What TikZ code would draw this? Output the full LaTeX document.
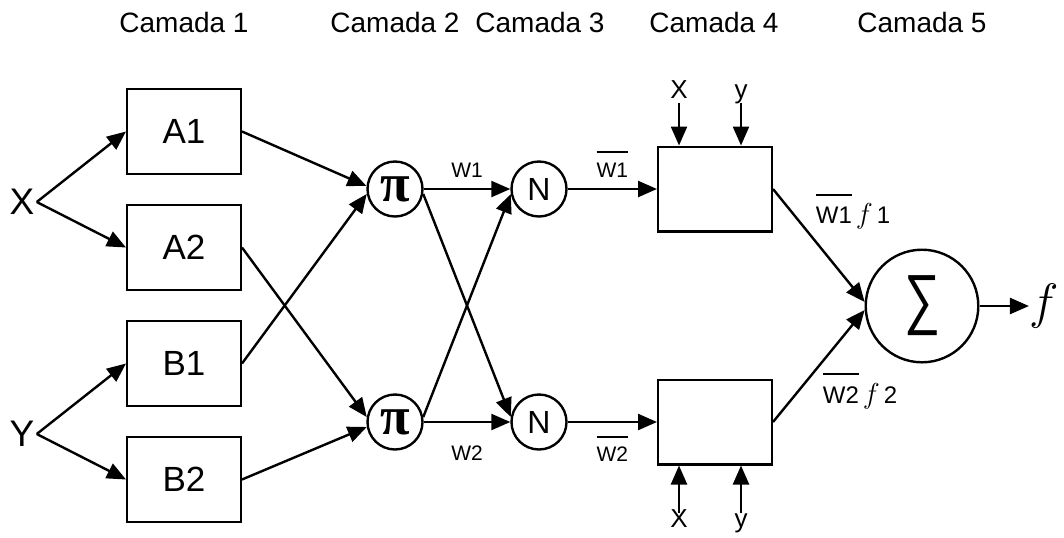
\documentclass[tikz,border=0pt]{standalone}
\usepackage{graphicx}
\usepackage{fontspec}
\setmainfont{Liberation Sans}
\newfontfamily\pifont{Liberation Serif}
\usetikzlibrary{arrows.meta, positioning}
\newcommand{\wbar}[1]{\vbox{\hrule height 1pt\kern .45em\hbox{#1}}}
\newcommand{\fsmall}{{\fontsize{14}{16}\selectfont$f$}}
\tikzstyle{camada} = [font=\fontsize{14}{16}\selectfont]
\tikzstyle{inlabel} = [inner sep=1pt, font=\fontsize{18.5}{20}\selectfont]
\tikzstyle{rulein} = [inner sep=0pt, text height=0.72em, text depth=0.2em, font=\fontsize{13}{15}\selectfont]
\tikzstyle{layer1} = [rectangle, minimum width=56.8pt, minimum height=42.3pt, text centered, draw=black, line width=1.2pt, font=\fontsize{17.5}{20}\selectfont]
\tikzstyle{layer2} = [circle, minimum size=27.5pt, inner sep=0pt, draw=black, line width=1.2pt, font=\pifont\bfseries\fontsize{27}{30}\selectfont]
\tikzstyle{layer3} = [circle, minimum size=27.5pt, inner sep=0pt, draw=black, line width=1.2pt, font=\fontsize{16}{18}\selectfont]
\tikzstyle{layer4} = [rectangle, minimum width=56.8pt, minimum height=42.3pt, draw=black, line width=1.2pt]
\tikzstyle{layer5} = [circle, minimum size=56.3pt, inner sep=0pt, draw=black, line width=1.2pt]
\tikzstyle{outlabel} = [inner sep=0pt, font=\fontsize{25}{28}\selectfont]
\tikzstyle{wlabel} = [font=\fontsize{10.5}{12}\selectfont]
\tikzstyle{flabel} = [font=\fontsize{12}{14}\selectfont]
\tikzstyle{arrow} = [line width=1.2pt, -{Triangle[length=9.5pt, width=8pt]}]

\begin{document}
\begin{tikzpicture}[x=0.5pt, y=-0.5pt, node distance=58pt]
    \useasboundingbox (0,0) rectangle (1064,537);

    \node (cam1) [camada] at (184,22) {Camada 1};
    \node (cam2) [camada] at (395,22) {Camada 2};
    \node (cam3) [camada] at (540,22) {Camada 3};
    \node (cam4) [camada] at (714,22) {Camada 4};
    \node (cam5) [camada] at (922,22) {Camada 5};

    \node (in-x) [inlabel] at (22,202) {X};
    \node (in-y) [inlabel] at (22,434) {Y};

    \node (a1) [layer1] at (184,131.5) {A1};
    \node (a2) [layer1, below of=a1] {A2};
    \node (b1) [layer1, below of=a2] {B1};
    \node (b2) [layer1, below of=b1] {B2};

    \node (pi1) [layer2] at (395,189) {π};
    \node (pi2) [layer2] at (395,422) {π};
    \node (n1) [layer3, right of=pi1, node distance=72pt] {N};
    \node (n2) [layer3, right of=pi2, node distance=72pt] {N};

    \node (r1) [layer4, right of=n1, node distance=88pt] {};
    \node (r2) [layer4, right of=n2, node distance=88pt] {};
    \node (sum) [layer5] at (922,306) {\resizebox*{18pt}{30pt}{∑}};
    \node (out) [outlabel, right of=sum, node distance=61pt] {$f$};

    % entradas x e y das regras
    \node (r1-x) [rulein, anchor=south] at (679,103) {X};
    \node (r1-y) [rulein, anchor=south] at (741,103) {y};
    \node (r2-x) [rulein, anchor=north] at (679,513) {X};
    \node (r2-y) [rulein, anchor=north] at (741,513) {y};

    \node (w1f1) [flabel, anchor=base] at (853,223) {\wbar{W1}\,\fsmall\,1};
    \node (w2f2) [flabel, anchor=base] at (860,403) {\wbar{W2}\,\fsmall\,2};

    \draw [arrow] (in-x.east) -- (a1.west);
    \draw [arrow] (in-x.east) -- (a2.west);
    \draw [arrow] (in-y.east) -- (b1.west);
    \draw [arrow] (in-y.east) -- (b2.west);

    \draw [arrow] (a1.east) -- (pi1.174);
    \draw [arrow] (b1.east) -- (pi1.190);
    \draw [arrow] (a2.east) -- (pi2.170);
    \draw [arrow] (b2.east) -- (pi2.190);

    \draw [arrow] (pi1.east) -- node [wlabel, above=2pt] {W1} (n1.west);
    \draw [arrow] (pi2.east) -- node [wlabel, below=8pt] {W2} (n2.west);
    \draw [arrow] (pi1.350) -- (n2.170);
    \draw [arrow] (pi2.10) -- (n1.190);

    \draw [arrow] (n1.east) -- node [wlabel, above=2pt] {\wbar{W1}} (r1.west);
    \draw [arrow] (n2.east) -- node [wlabel, below=3pt] {\wbar{W2}} (r2.west);

    \draw [arrow] (r1-x) -- (r1-x |- r1.north);
    \draw [arrow] (r1-y) -- (r1-y |- r1.north);
    \draw [arrow] (r2-x) -- (r2-x |- r2.south);
    \draw [arrow] (r2-y) -- (r2-y |- r2.south);

    \draw [arrow] (r1.east) -- (sum.176);
    \draw [arrow] (r2.east) -- (sum.184);
    \draw [arrow] (sum.east) -- (out.west);
\end{tikzpicture}
\end{document}
